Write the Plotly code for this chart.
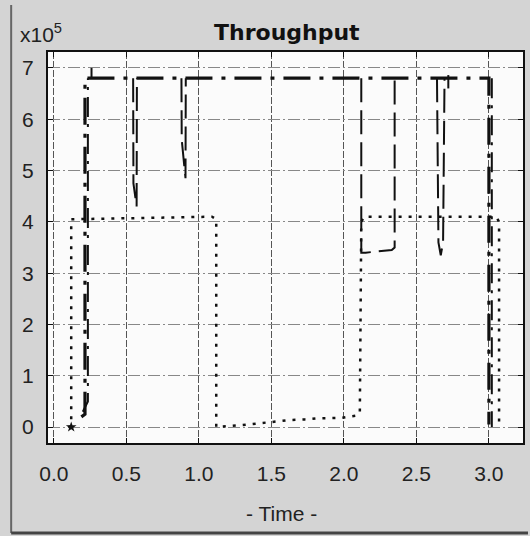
import plotly.graph_objects as go

# ---- data (throughput in units of 1e5, time in s) ----
# flow A: thick dash-dot
a_time = [0.19, 0.215, 0.215, 3.0, 3.0]
a_thr = [0.2, 0.25, 6.8, 6.8, 0.05]

# flow B: dotted
b_time = [0.10, 0.12, 0.12, 1.09, 1.12, 1.12, 1.30, 1.46, 1.55, 1.64, 1.73, 1.81, 1.98, 2.08, 2.11, 2.12, 2.14, 3.05, 3.07, 3.07]
b_thr = [0.0, 0.02, 4.05, 4.1, 4.05, 0.0, 0.04, 0.09, 0.12, 0.14, 0.15, 0.17, 0.18, 0.22, 0.27, 4.0, 4.1, 4.1, 4.0, 0.0]

# flow C: long dash (dips below the shared ceiling)
c_time = [0.547, 0.549, 0.571, 0.573, None, 0.88, 0.882, 0.908, 0.91, None,
          2.12, 2.12, 2.15, 2.33, 2.35, 2.35, None,
          2.642, 2.652, 2.668, 2.684, 2.694, None, 2.72, 2.72]
c_thr = [6.8, 4.75, 4.3, 6.8, None, 6.8, 5.6, 4.85, 6.8, None,
         6.8, 3.4, 3.4, 3.45, 3.5, 6.8, None,
         6.8, 3.6, 3.35, 3.6, 6.8, None, 6.6, 6.86]

# flow D: thin dash-dot (start-up and shut-down)
d_time = [0.20, 0.235, 0.235, None, 0.26, 0.26, None, 3.02, 3.02]
d_thr = [0.3, 0.5, 6.8, None, 6.8, 7.0, None, 6.8, 0.0]

start_time = [0.12]
start_thr = [0.0]

x_ticks = [0.0, 0.5, 1.0, 1.5, 2.0, 2.5, 3.0]
x_labels = ["0.0", "0.5", "1.0", "1.5", "2.0", "2.5", "3.0"]
y_ticks = [0, 1, 2, 3, 4, 5, 6, 7]

fig = go.Figure()
fig.add_trace(go.Scatter(x=b_time, y=b_thr, mode="lines",
                         line=dict(color="#111", width=2.5, dash="3px,7px")))
fig.add_trace(go.Scatter(x=c_time, y=c_thr, mode="lines",
                         line=dict(color="#111", width=2, dash="24px,8px")))
fig.add_trace(go.Scatter(x=d_time, y=d_thr, mode="lines",
                         line=dict(color="#111", width=2, dash="20px,7px,3px,7px")))
fig.add_trace(go.Scatter(x=a_time, y=a_thr, mode="lines",
                         line=dict(color="#111", width=3.2, dash="27px,9px,4px,9px")))
fig.add_trace(go.Scatter(x=start_time, y=start_thr, mode="markers",
                         marker=dict(symbol="star", size=8, color="#111")))

L, R, T, B = 48, 5, 52, 93
W, H = 530, 536
pw, ph = W - L - R, H - T - B


def px(xp):
    return (xp - L) / pw


def py(yp):
    return (H - B - yp) / ph


axis_font = dict(family="Liberation Sans, Arial, sans-serif", size=21, color="#222")

fig.update_layout(
    width=W, height=H,
    margin=dict(l=L, r=R, t=T, b=B),
    paper_bgcolor="#d4d4d4",
    plot_bgcolor="#fbfbfb",
    showlegend=False,
    xaxis=dict(range=[-0.04, 3.235], tickvals=x_ticks, ticktext=x_labels,
               showgrid=True, gridcolor="#555", gridwidth=1, griddash="7px,2px",
               zeroline=False, showline=True, linecolor="#111", linewidth=2, mirror="ticks",
               ticks="inside", ticklen=5, tickcolor="#111", tickfont=axis_font,
               ticklabelstandoff=11),
    yaxis=dict(range=[-0.31, 7.31], tickvals=y_ticks,
               showgrid=True, gridcolor="#888", gridwidth=1, griddash="12px,3px,2px,3px",
               zeroline=False, showline=True, linecolor="#111", linewidth=2, mirror="ticks",
               ticks="inside", ticklen=5, tickcolor="#111", tickfont=axis_font,
               ticklabelstandoff=8),
    annotations=[
        dict(text="<b>Throughput</b>", xref="paper", yref="paper", x=px(288), y=py(33),
             xanchor="center", yanchor="middle", showarrow=False,
             font=dict(family="DejaVu Sans, Verdana, sans-serif", size=22, color="#111")),
        dict(text="x10<sup>5</sup>", xref="paper", yref="paper", x=px(18), y=py(33),
             xanchor="left", yanchor="middle", showarrow=False,
             font=dict(family="Liberation Sans, Arial, sans-serif", size=21, color="#222")),
        dict(text="- Time -", xref="paper", yref="paper", x=px(282), y=py(513),
             xanchor="center", yanchor="middle", showarrow=False,
             font=dict(family="Liberation Sans, Arial, sans-serif", size=21, color="#222")),
    ],
    shapes=[
        dict(type="line", xref="paper", yref="paper", x0=px(11), x1=px(11), y0=py(533), y1=py(5),
             line=dict(color="#666", width=2)),
        dict(type="line", xref="paper", yref="paper", x0=px(11), x1=px(530), y0=py(533), y1=py(533),
             line=dict(color="#444", width=3)),
    ],
)

fig.write_html("out.html", config={"displayModeBar": False},
               post_script="document.body.style.margin='0';document.body.style.overflow='hidden';")
